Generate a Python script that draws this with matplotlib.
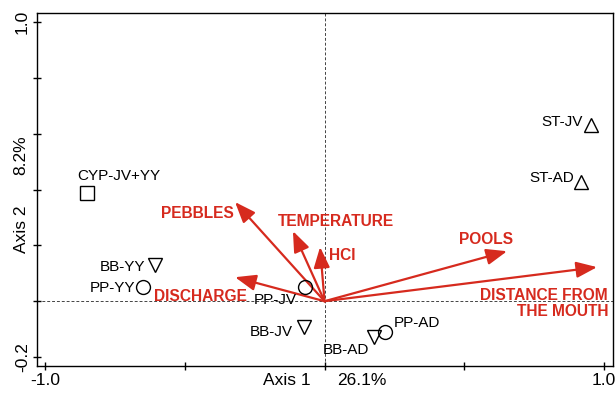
import numpy as np
import matplotlib
matplotlib.use("Agg")
import matplotlib.pyplot as plt

plt.rcParams['font.family'] = ['Liberation Sans', 'DejaVu Sans']

# site scores (axis 1, axis 2)
site_names = ["CYP-JV+YY", "BB-YY", "PP-YY", "PP-JV", "BB-JV",
              "BB-AD", "PP-AD", "ST-JV", "ST-AD"]
site_x = [-0.85, -0.606, -0.649, -0.07, -0.074, 0.177, 0.216, 0.953, 0.918]
site_y = [0.387, 0.129, 0.05, 0.05, -0.093, -0.129, -0.111, 0.631, 0.427]
site_marker = ["s", "v", "o", "o", "v", "v", "o", "^", "^"]

# environmental vectors
env_names = ["PEBBLES", "TEMPERATURE", "HCI", "DISCHARGE", "POOLS",
             "DISTANCE FROM\nTHE MOUTH"]
env_x = [-0.32, -0.113, -0.016, -0.32, 0.653, 0.975]
env_y = [0.355, 0.251, 0.194, 0.086, 0.179, 0.122]

axis1_pct = "26.1%"
axis2_pct = "8.2%"

# label placement (offset in pixels, horizontal alignment)
site_lab = {
    "CYP-JV+YY": (-10, 17, "left"),
    "BB-YY": (-10, -2, "right"),
    "PP-YY": (-8, -1, "right"),
    "PP-JV": (-8, -13, "right"),
    "BB-JV": (-11, -5, "right"),
    "BB-AD": (-5, -13, "right"),
    "PP-AD": (9, 9, "left"),
    "ST-JV": (-8, 3, "right"),
    "ST-AD": (-7, 4, "right"),
}
env_lab = {
    "PEBBLES": (-1, -11, "right"),
    "TEMPERATURE": (-15, 10, "left"),
    "HCI": (9, -8, "left"),
    "DISCHARGE": (12, -19, "right"),
    "POOLS": (6, 12, "right"),
    "DISTANCE FROM\nTHE MOUTH": (11, -36, "right"),
}

red = "#d62a1e"

fig = plt.figure(figsize=(6.16, 3.95), dpi=100)
ax = fig.add_axes([0.0601, 0.0734, 0.935, 0.8937])
ax.set_xlim(-1.0286, 1.032)
ax.set_ylim(-0.232, 1.032)

ax.axhline(0, color="#444444", lw=0.7, ls=(0, (3, 2)), zorder=1)
ax.axvline(0, color="#444444", lw=0.7, ls=(0, (3, 2)), zorder=1)

for name, x, y in zip(env_names, env_x, env_y):
    ax.annotate("", xy=(x, y), xytext=(0, 0),
                arrowprops=dict(arrowstyle="-|>,head_length=0.9,head_width=0.35",
                                color=red, lw=1.6, shrinkA=0, shrinkB=0,
                                mutation_scale=14), zorder=3)
    dx, dy, ha = env_lab[name]
    ax.annotate(name, xy=(x, y), xytext=(dx, dy), textcoords="offset pixels",
                ha=ha, va="center", color=red, fontsize=11.2, fontweight="bold",
                multialignment="right", linespacing=1.1, zorder=4)

for name, x, y, m in zip(site_names, site_x, site_y, site_marker):
    ax.plot(x, y, marker=m, ms=10, mfc="none", mec="black", mew=1.0,
            ls="none", zorder=5)
    dx, dy, ha = site_lab[name]
    ax.annotate(name, xy=(x, y), xytext=(dx, dy), textcoords="offset pixels",
                ha=ha, va="center", color="black", fontsize=11, zorder=6)

ax.set_xticks([-1.0, -0.5, 0.0, 0.5, 1.0])
ax.set_xticklabels(["-1.0", "", "", "", "1.0"], fontsize=12.5)
ax.set_yticks([-0.2, 0.0, 0.2, 0.4, 0.6, 0.8, 1.0])
ax.set_yticklabels(["-0.2", "", "", "", "", "", "1.0"], fontsize=12.5,
                   rotation=90, va="center")
ax.tick_params(direction="inout", length=6, width=1, pad=2)

for s in ax.spines.values():
    s.set_linewidth(1.0)

# axis titles with explained variance
ax.annotate("Axis 1", xy=(0, 0), xycoords=("data", "axes fraction"),
            xytext=(-14, -14), textcoords="offset pixels",
            ha="right", va="center", fontsize=12.5)
ax.annotate(axis1_pct, xy=(0, 0), xycoords=("data", "axes fraction"),
            xytext=(13, -14), textcoords="offset pixels",
            ha="left", va="center", fontsize=12.5)
ax.annotate("Axis 2", xy=(0, 0.258), xycoords=("axes fraction", "data"),
            xytext=(-16, 0), textcoords="offset pixels",
            ha="center", va="center", fontsize=12.5, rotation=90)
ax.annotate(axis2_pct, xy=(0, 0.523), xycoords=("axes fraction", "data"),
            xytext=(-16, 0), textcoords="offset pixels",
            ha="center", va="center", fontsize=12.5, rotation=90)

fig.savefig("out.png", dpi=100)
